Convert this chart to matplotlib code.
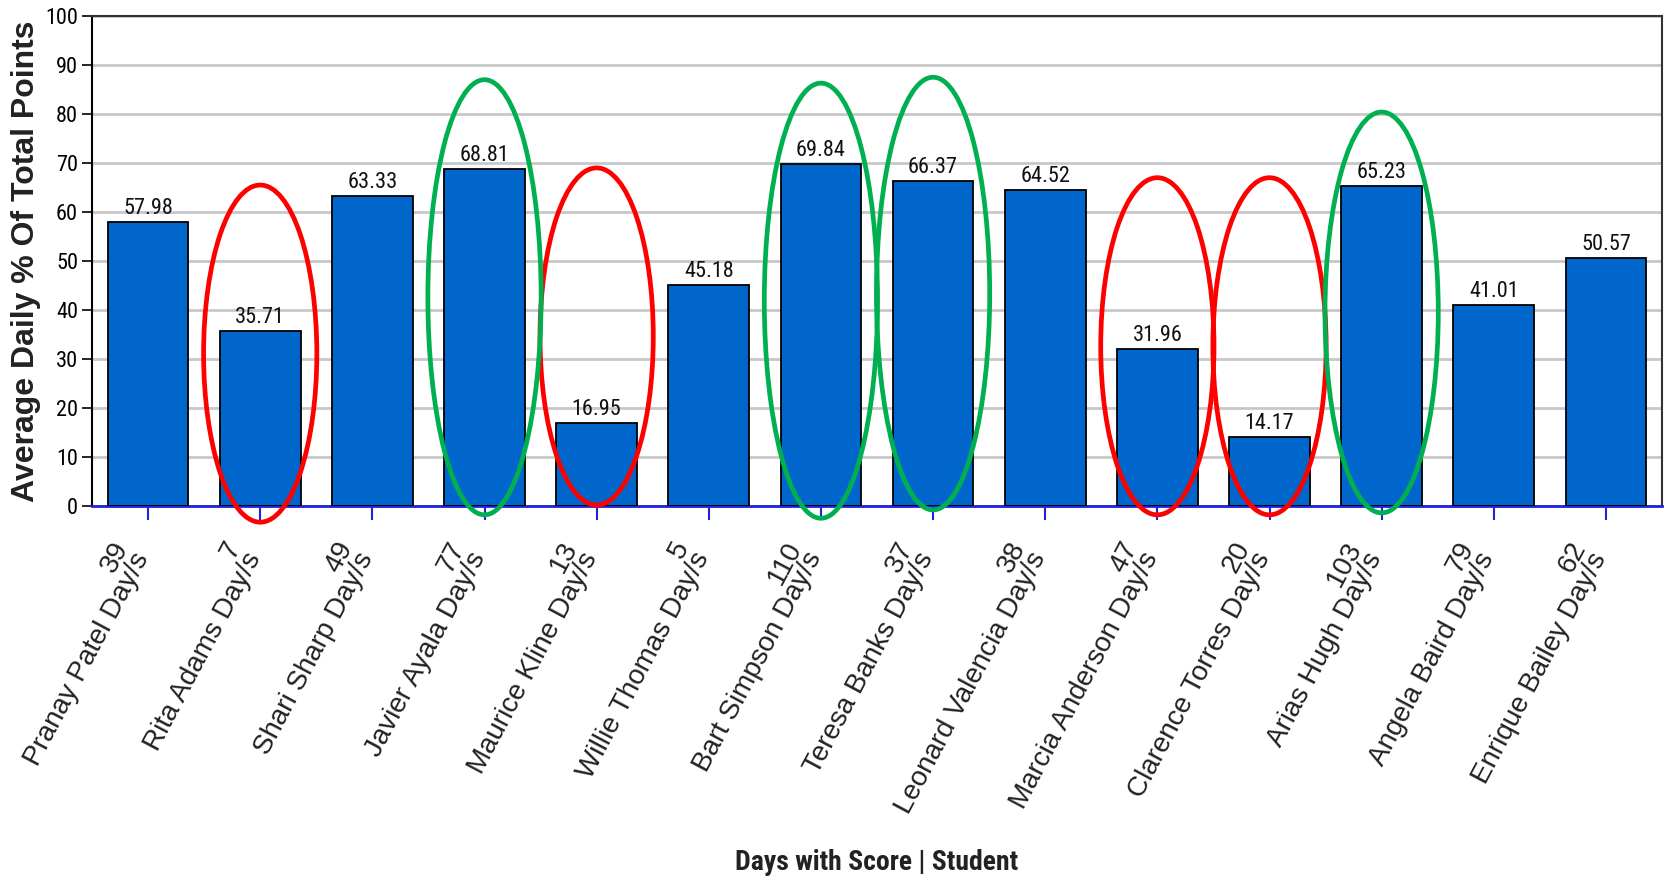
import matplotlib
matplotlib.use("Agg")
import matplotlib.pyplot as plt
from matplotlib.patches import Ellipse
from matplotlib.transforms import ScaledTranslation
from matplotlib import font_manager as fm

students = ["Pranay Patel", "Rita Adams", "Shari Sharp", "Javier Ayala", "Maurice Kline",
            "Willie Thomas", "Bart Simpson", "Teresa Banks", "Leonard Valencia",
            "Marcia Anderson", "Clarence Torres", "Arias Hugh", "Angela Baird", "Enrique Bailey"]
days = [39, 7, 49, 77, 13, 5, 110, 37, 38, 47, 20, 103, 79, 62]
scores = [57.98, 35.71, 63.33, 68.81, 16.95, 45.18, 69.84, 66.37, 64.52, 31.96, 14.17, 65.23, 41.01, 50.57]

# highlighted students (index, top, bottom of the drawn ellipse in data units)
red_idx = [1, 4, 9, 10]
red_top = [65.5, 69.0, 67.0, 67.0]
red_bot = [-3.3, 0.2, -1.8, -1.8]
green_idx = [3, 6, 7, 11]
green_top = [87.0, 86.3, 87.5, 80.4]
green_bot = [-1.8, -2.5, -0.8, -1.4]

names = {f.name for f in fm.fontManager.ttflist}
narrow, narrow_stretch, is_narrow = "DejaVu Sans", "condensed", False
for cand in ["Liberation Sans Narrow", "Roboto Condensed", "Open Sans Condensed"]:
    if cand in names:
        narrow, narrow_stretch, is_narrow = cand, "normal", True
        break
sans = "Liberation Sans" if "Liberation Sans" in names else "DejaVu Sans"

fig = plt.figure(figsize=(16.69, 8.81), dpi=100)
ax = fig.add_axes([92 / 1669, 1 - 506 / 881, 1570 / 1669, 490 / 881])

x = list(range(len(scores)))
bar_color = "#0066CC"
ax.bar(x, scores, width=0.72, color=bar_color, edgecolor="black", linewidth=1.3, zorder=3)

for xi, v in zip(x, scores):
    ax.text(xi, v + 0.6, f"{v:.2f}", ha="center", va="bottom",
            fontsize=16 if is_narrow else 14.5,
            family=narrow, stretch=narrow_stretch, color="#111111", zorder=4)

ax.set_xlim(-0.5, len(scores) - 0.5)
ax.set_ylim(0, 100)
ax.set_yticks(range(0, 101, 10))
ax.yaxis.grid(True, color="#C8C8C8", linewidth=2.0, zorder=0)
ax.set_axisbelow(True)

for lab in ax.get_yticklabels():
    lab.set_family(narrow)
    lab.set_stretch(narrow_stretch)
    lab.set_fontsize(16 if is_narrow else 15)
ax.tick_params(axis="y", length=7, width=1.2, color="black", pad=3)

ax.set_xticks(x)
ax.set_xticklabels([f"{d}\n{s} Day/s" for d, s in zip(days, students)],
                   rotation=62, ha="right", va="bottom", rotation_mode="anchor",
                   multialignment="right", fontsize=20, family=sans,
                   color="#222222", linespacing=0.85)
ax.tick_params(axis="x", length=10, width=1.5, color="#2020E0", direction="out", pad=29)
shift = ScaledTranslation(6 / 100, 0, fig.dpi_scale_trans)
for lab in ax.get_xticklabels():
    lab.set_transform(lab.get_transform() + shift)

ax.spines["bottom"].set_color("#2020E0")
ax.spines["bottom"].set_linewidth(2)
ax.spines["left"].set_color("black")
ax.spines["left"].set_linewidth(1.5)
ax.spines["top"].set_color("#333333")
ax.spines["top"].set_linewidth(1.5)
ax.spines["right"].set_color("#333333")
ax.spines["right"].set_linewidth(1.5)

for idxs, tops, bots, col in [(red_idx, red_top, red_bot, "#FF0000"),
                              (green_idx, green_top, green_bot, "#00B050")]:
    for i, t, b in zip(idxs, tops, bots):
        e = Ellipse((i, (t + b) / 2), width=1.01, height=t - b, fill=False,
                    edgecolor=col, linewidth=3.4, clip_on=False, zorder=5)
        ax.add_patch(e)

ax.set_ylabel("Average Daily % Of Total Points", fontsize=23, fontweight="bold",
              family=sans, color="#222222")
ax.yaxis.set_label_coords((41 - 92) / 1570, 0.5)
xl_size = 20 if is_narrow else 16
fig.text((92 + 1662) / 2 / 1669, 1 - 862 / 881, "Days with Score | Student",
         ha="center", va="center", fontsize=xl_size, fontweight="bold",
         family=narrow, stretch=narrow_stretch, color="#222222")

fig.savefig("out.png", dpi=100)
